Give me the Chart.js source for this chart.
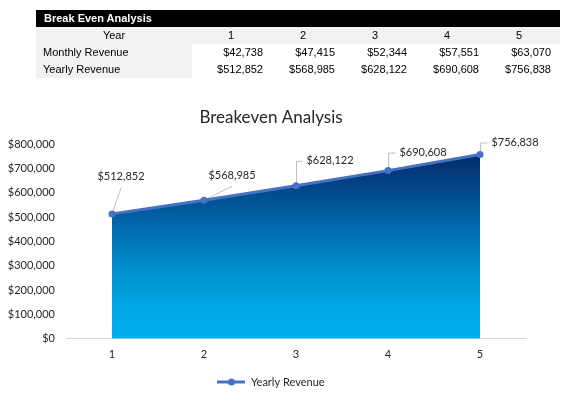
<!DOCTYPE html>
<html lang="en">
<head>
    <meta charset="UTF-8">
    <title>Break Even Analysis</title>
    <style>
        body {
            margin: 0;
            width: 569px;
            height: 407px;
            overflow: hidden;
            position: relative;
            background: #fff;
            font-family: "Liberation Sans", Arial, sans-serif;
        }
        #chart {
            position: absolute;
            left: 0;
            top: 0;
        }
        .sheet {
            position: absolute;
            left: 36px;
            top: 10px;
            width: 524px;
            border-collapse: collapse;
            table-layout: fixed;
            font-size: 11px;
            color: #000;
            z-index: 1;
        }
        .sheet td {
            height: 17px;
            line-height: 17px;
            padding: 0;
            white-space: nowrap;
            overflow: visible;
        }
        .sheet .head td {
            background: #000;
            color: #fff;
            font-weight: bold;
            padding-left: 8px;
        }
        .sheet .years td {
            background: #f2f2f2;
            text-align: center;
            padding-left: 6px;
        }
        .sheet td.label {
            background: #f2f2f2;
            padding-left: 7px;
        }
        .sheet td.num {
            text-align: right;
            padding-right: 1px;
            background: #fff;
        }
        .sheet .years td.label { text-align: center; padding-left: 0; }
    </style>
</head>
<body>
    <table class="sheet" id="sheet"></table>
    <canvas id="chart" width="569" height="407"></canvas>

    <script src="https://cdn.jsdelivr.net/npm/chart.js"></script>
    <script>
        const years = ['1', '2', '3', '4', '5'];
        const monthlyRevenue = [42738, 47415, 52344, 57551, 63070];
        const yearlyRevenue = [512852, 568985, 628122, 690608, 756838];
        const yMin = 0;
        const yMax = 800000;
        const yStep = 100000;

        const money = v => '$' + v.toLocaleString('en-US');

        // spreadsheet block above the chart
        function buildSheet() {
            const cols = '<colgroup><col style="width:156px">' +
                years.map(() => '<col style="width:72px">').join('') +
                '<col style="width:8px"></colgroup>';
            const head = '<tr class="head"><td colspan="' + (years.length + 2) + '">Break Even Analysis</td></tr>';
            const yearRow = '<tr class="years"><td class="label">Year</td>' +
                years.map(y => '<td>' + y + '</td>').join('') + '<td></td></tr>';
            const row = (label, vals) => '<tr><td class="label">' + label + '</td>' +
                vals.map(v => '<td class="num">' + money(v) + '</td>').join('') + '<td></td></tr>';
            document.getElementById('sheet').innerHTML = cols + head + yearRow +
                row('Monthly Revenue', monthlyRevenue) + row('Yearly Revenue', yearlyRevenue);
        }
        buildSheet();

        const lineBlue = '#4472C4';
        const textColor = '#262626';

        // legend marker: line with a dot in the middle
        const legendMark = document.createElement('canvas');
        legendMark.width = 28;
        legendMark.height = 10;
        (function () {
            const c = legendMark.getContext('2d');
            c.strokeStyle = lineBlue;
            c.lineWidth = 3;
            c.beginPath();
            c.moveTo(0, 5);
            c.lineTo(28, 5);
            c.stroke();
            c.fillStyle = lineBlue;
            c.beginPath();
            c.arc(14, 5, 3.5, 0, Math.PI * 2);
            c.fill();
        })();

        // label placement relative to each point (dx, dy of text centre), plus leader type
        const labelPlacement = [
            { dx: 9, dy: -37, leader: 'diag' },
            { dx: 28, dy: -25, leader: 'diag' },
            { dx: 34, dy: -25, leader: 'elbow' },
            { dx: 35, dy: -18, leader: 'elbow' },
            { dx: 35, dy: -12, leader: 'elbow' }
        ];
        const labelFont = '11px Lato';

        const leaderLabels = {
            id: 'leaderLabels',
            beforeDatasetsDraw(chart) {
                const ctx = chart.ctx;
                const pts = chart.getDatasetMeta(0).data;
                ctx.save();
                ctx.font = labelFont;
                ctx.strokeStyle = '#bfbfbf';
                ctx.lineWidth = 1;
                pts.forEach((p, i) => {
                    const pl = labelPlacement[i];
                    const cx = p.x + pl.dx, cy = p.y + pl.dy;
                    const w = ctx.measureText(money(yearlyRevenue[i])).width;
                    ctx.beginPath();
                    if (pl.leader === 'diag') {
                        ctx.moveTo(p.x, p.y);
                        ctx.lineTo(cx, cy + 11);
                    } else {
                        ctx.moveTo(p.x + 0.5, p.y);
                        ctx.lineTo(p.x + 0.5, cy + 0.5);
                        ctx.lineTo(cx - w / 2 - 4, cy + 0.5);
                    }
                    ctx.stroke();
                });
                ctx.restore();
            },
            afterDatasetsDraw(chart) {
                const ctx = chart.ctx;
                const pts = chart.getDatasetMeta(0).data;
                ctx.save();
                ctx.font = labelFont;
                ctx.fillStyle = textColor;
                ctx.textAlign = 'center';
                ctx.textBaseline = 'middle';
                pts.forEach((p, i) => {
                    const pl = labelPlacement[i];
                    ctx.fillText(money(yearlyRevenue[i]), p.x + pl.dx, p.y + pl.dy);
                });
                ctx.restore();
            }
        };

        function areaGradient(context) {
            const chart = context.chart;
            const area = chart.chartArea;
            if (!area) return 'rgba(0,0,0,0)';
            const y = chart.scales.y;
            const top = y.getPixelForValue(Math.max(...yearlyRevenue));
            const g = chart.ctx.createLinearGradient(0, top, 0, area.bottom);
            g.addColorStop(0, '#052a68');
            g.addColorStop(0.2, '#034a8c');
            g.addColorStop(0.4, '#006bac');
            g.addColorStop(0.6, '#008bcb');
            g.addColorStop(0.8, '#00a4e0');
            g.addColorStop(1, '#00b0f0');
            return g;
        }

        new Chart(document.getElementById('chart'), {
            type: 'line',
            data: {
                labels: years,
                datasets: [{
                    label: 'Yearly Revenue',
                    data: yearlyRevenue,
                    borderColor: lineBlue,
                    borderWidth: 3,
                    pointRadius: 3.5,
                    pointBackgroundColor: lineBlue,
                    pointBorderColor: lineBlue,
                    pointBorderWidth: 0,
                    tension: 0,
                    fill: 'origin',
                    backgroundColor: areaGradient
                }]
            },
            options: {
                responsive: false,
                animation: false,
                devicePixelRatio: 1,
                layout: { padding: { top: 95, left: 6, right: 33, bottom: 9.5 } },
                plugins: {
                    title: {
                        display: true,
                        text: 'Breakeven Analysis',
                        color: textColor,
                        font: { family: 'Lato', size: 17, weight: 'normal' },
                        padding: { top: 12, bottom: 16.6 }
                    },
                    legend: {
                        position: 'bottom',
                        labels: {
                            usePointStyle: true,
                            pointStyle: legendMark,
                            pointStyleWidth: 28,
                            padding: 15.8,
                            color: textColor,
                            font: { family: 'Lato', size: 11 }
                        }
                    },
                    tooltip: { enabled: false }
                },
                scales: {
                    x: {
                        offset: true,
                        grid: { display: false, drawTicks: false },
                        border: { display: true, color: '#d9d9d9', width: 1 },
                        ticks: {
                            padding: 9,
                            color: textColor,
                            font: { family: 'Lato', size: 11 }
                        },
                        afterFit(scale) { scale.height = 22; }
                    },
                    y: {
                        min: yMin,
                        max: yMax,
                        grid: { display: false, drawTicks: false },
                        border: { display: false },
                        ticks: {
                            stepSize: yStep,
                            padding: 11,
                            color: textColor,
                            font: { family: 'Lato', size: 11 },
                            callback: v => money(v)
                        },
                        afterFit(scale) { scale.width = 60; }
                    },
                    // empty right-hand spacer so the title and legend sit where they do in the reference
                    spacer: {
                        type: 'linear',
                        position: 'right',
                        grid: { display: false, drawTicks: false },
                        border: { display: false },
                        ticks: { display: false },
                        afterFit(scale) { scale.width = 10; }
                    }
                }
            },
            plugins: [leaderLabels]
        });
    </script>
</body>
</html>
